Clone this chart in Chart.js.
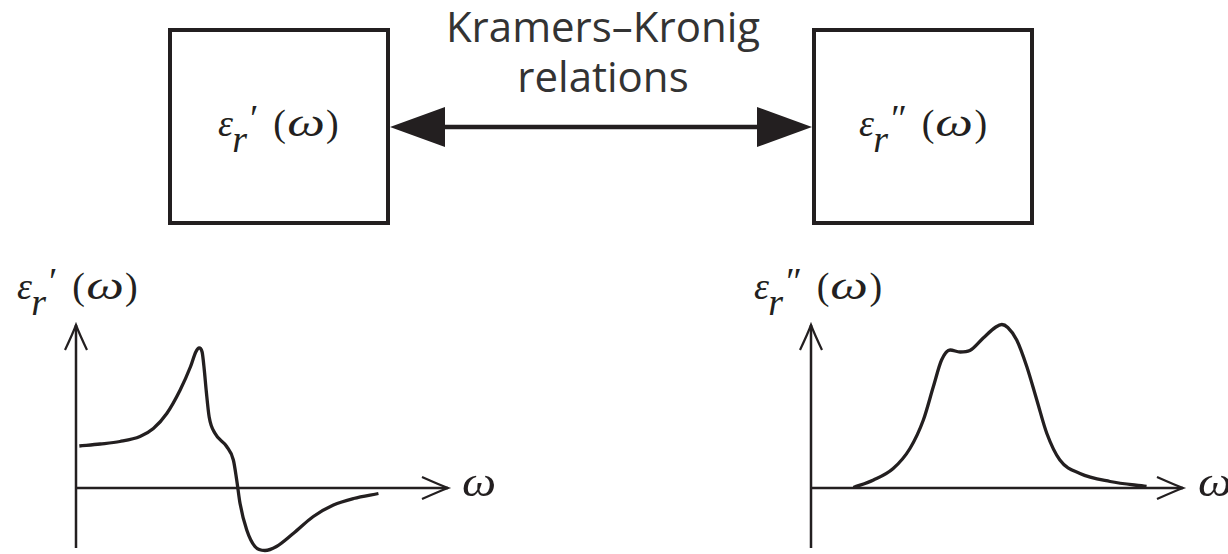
<!DOCTYPE html>
<html>
<head>
<meta charset="utf-8">
<script src="https://cdn.jsdelivr.net/npm/chart.js@4"></script>
<style>
  html, body { margin: 0; padding: 0; background: #fff; }
  #page { position: relative; width: 1228px; height: 554px; overflow: hidden; background: #fff; color: #231f20; }
  .box { position: absolute; top: 28px; width: 222px; height: 197px; box-sizing: border-box; border: 4.5px solid #231f20; }
  .kk { position: absolute; left: 403px; top: 1px; width: 400px; text-align: center; font: 42px 'Open Sans', sans-serif; line-height: 50px; color: #333; }
  .lbl { position: absolute; font: italic 38px 'Liberation Serif', 'Times New Roman', serif; line-height: 38px; white-space: nowrap; color: #231f20; }
  .lbl .r { position: relative; top: 0.42em; margin-left: -0.02em; }
  .lbl .pr { position: relative; top: -0.12em; margin-left: 0.02em; }
  .lbl .arg { margin-left: 0.45em; }
  .lbl .arg b { font-weight: normal; font-style: normal; }
  .lbl .arg i { display: inline-block; width: 0.98em; text-align: center; transform: scaleX(1.3); font-size: 1.08em; }
  .om { position: absolute; font: italic 42px 'Liberation Serif', 'Times New Roman', serif; line-height: 42px; color: #231f20; }
  .om i { display: inline-block; transform: scaleX(1.15); transform-origin: left center; }
  .plot { position: absolute; top: 270px; height: 284px; }
  svg { position: absolute; left: 0; top: 0; }
</style>
</head>
<body>
<div id="page">
  <div class="kk">Kramers–Kronig<br>relations</div>
  <div class="box" style="left:168px"></div>
  <div class="box" style="left:812px"></div>
  <svg width="1228" height="260">
    <line x1="440" y1="127" x2="762" y2="127" stroke="#231f20" stroke-width="4.5"/>
    <polygon points="390,127 445,107 445,147" fill="#231f20"/>
    <polygon points="812,127 757,107 757,147" fill="#231f20"/>
  </svg>
  <div class="lbl" style="left:218px;top:103px">ε<span class="r">r</span><span class="pr">′</span><span class="arg"><b>(</b><i>ω</i><b>)</b></span></div>
  <div class="lbl" style="left:859px;top:103px">ε<span class="r">r</span><span class="pr">″</span><span class="arg"><b>(</b><i>ω</i><b>)</b></span></div>
  <div class="lbl" style="left:17px;top:266px">ε<span class="r">r</span><span class="pr">′</span><span class="arg"><b>(</b><i>ω</i><b>)</b></span></div>
  <div class="lbl" style="left:754px;top:266px">ε<span class="r">r</span><span class="pr">″</span><span class="arg"><b>(</b><i>ω</i><b>)</b></span></div>
  <div class="plot" style="left:0;width:500px"><canvas id="realChart" width="500" height="284"></canvas></div>
  <div class="plot" style="left:740px;width:488px"><canvas id="imagChart" width="488" height="284"></canvas></div>
  <div class="om" style="left:462px;top:461px"><i>ω</i></div>
  <div class="om" style="left:1198px;top:461px"><i>ω</i></div>
</div>
<script>
// real part  eps_r'(omega)
const realOmega = [0.09, 0.65, 1.18, 1.72, 2.08, 2.44, 2.8, 3.08, 3.22, 3.31, 3.39, 3.45, 3.5, 3.58, 3.74, 4.05, 4.23, 4.32, 4.41, 4.59, 4.81, 5.08, 5.39, 5.84, 6.38, 6.92, 7.46, 8.13];
const realEps   = [0.84, 0.88, 0.93, 1.03, 1.19, 1.49, 1.96, 2.43, 2.72, 2.8, 2.72, 2.35, 1.95, 1.42, 1.09, 0.83, 0.56, 0.16, -0.31, -0.84, -1.17, -1.25, -1.17, -0.91, -0.57, -0.34, -0.21, -0.11];

// imaginary part  eps_r''(omega)
const imagOmega = [1.14, 1.68, 2.21, 2.66, 3.02, 3.29, 3.51, 3.74, 4.01, 4.27, 4.63, 4.97, 5.13, 5.29, 5.53, 5.8, 6.07, 6.34, 6.69, 7.23, 8.04, 9.02];
const imagEps   = [0.01, 0.16, 0.39, 0.79, 1.36, 2.03, 2.56, 2.76, 2.72, 2.75, 3.0, 3.22, 3.27, 3.21, 2.96, 2.43, 1.76, 1.09, 0.56, 0.29, 0.13, 0.03];

// axis extent in data units
const axisXMax = 10;
const axisYMax = 3.26;
const axisYMin = -1.2;

const INK = '#231f20';

const arrowAxes = {
  id: 'arrowAxes',
  beforeDatasetsDraw(chart) {
    const { ctx, scales: { x, y } } = chart;
    const x0 = x.getPixelForValue(0), y0 = y.getPixelForValue(0);
    const xEnd = x.getPixelForValue(axisXMax);
    const yTop = y.getPixelForValue(axisYMax), yBot = y.getPixelForValue(axisYMin);
    ctx.save();
    ctx.strokeStyle = INK;
    ctx.lineWidth = 2.5;
    ctx.beginPath();
    ctx.moveTo(x0, yBot); ctx.lineTo(x0, yTop);
    ctx.moveTo(x0, y0); ctx.lineTo(xEnd, y0);
    ctx.stroke();
    // open, slightly curved arrow heads
    ctx.lineWidth = 2.2;
    ctx.beginPath();
    ctx.moveTo(x0 - 11, yTop + 25); ctx.quadraticCurveTo(x0 - 3, yTop + 8, x0, yTop); ctx.quadraticCurveTo(x0 + 3, yTop + 8, x0 + 11, yTop + 25);
    ctx.moveTo(xEnd - 26, y0 - 11); ctx.quadraticCurveTo(xEnd - 8, y0 - 3, xEnd, y0); ctx.quadraticCurveTo(xEnd - 8, y0 + 3, xEnd - 26, y0 + 11);
    ctx.stroke();
    ctx.restore();
  }
};

function makePlot(id, omega, eps, padLeft, padRight) {
  new Chart(document.getElementById(id), {
    type: 'line',
    data: {
      datasets: [{
        data: omega.map((w, i) => ({ x: w, y: eps[i] })),
        borderColor: INK,
        borderWidth: 3.3,
        pointRadius: 0,
        fill: false,
        cubicInterpolationMode: 'monotone',
        clip: false
      }]
    },
    options: {
      responsive: false,
      animation: false,
      devicePixelRatio: 1,
      layout: { padding: { left: padLeft, right: padRight, top: 53, bottom: 1 } },
      plugins: { legend: { display: false }, tooltip: { enabled: false } },
      scales: {
        x: { type: 'linear', min: 0, max: axisXMax, display: false },
        y: { type: 'linear', min: -1.3, max: 3.3, display: false }
      }
    },
    plugins: [arrowAxes]
  });
}

makePlot('realChart', realOmega, realEps, 76, 52);
makePlot('imagChart', imagOmega, imagEps, 71, 45);
</script>
</body>
</html>
